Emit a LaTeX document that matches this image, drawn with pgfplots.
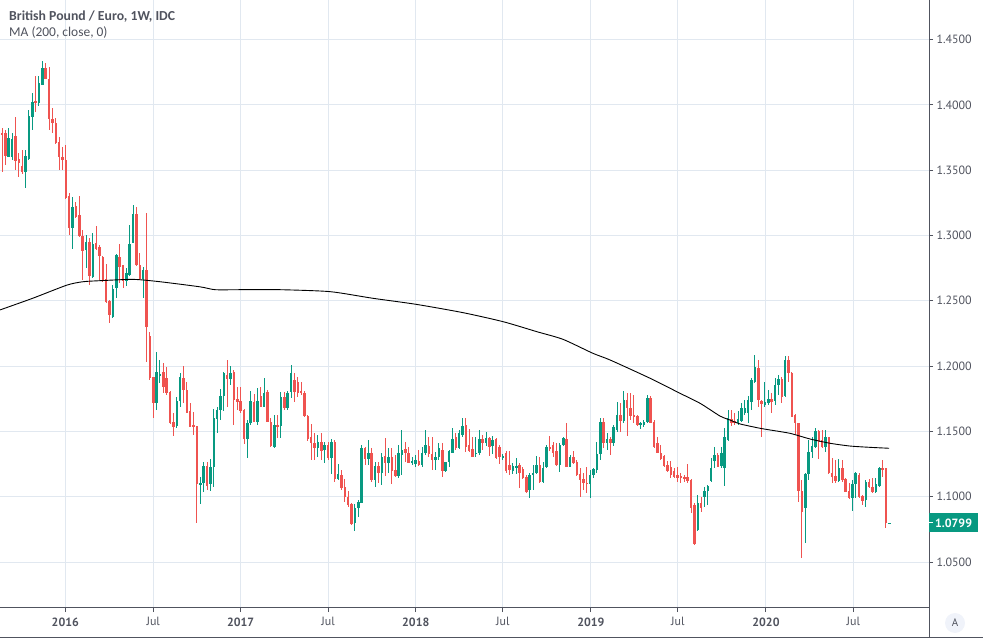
\documentclass[border=0pt]{standalone}
\usepackage{pgfplots}
\pgfplotsset{compat=1.18}
\usepackage{pgfplotstable}
\usepackage{fontspec}
\setmainfont{PT Sans}
\newfontfamily\titlefont{Carlito}

\definecolor{upc}{RGB}{8,153,129}
\definecolor{downc}{RGB}{239,83,80}
\definecolor{gridc}{RGB}{225,232,240}
\definecolor{axisc}{RGB}{80,83,94}
\definecolor{labelc}{RGB}{80,83,94}
\definecolor{btnc}{RGB}{240,243,250}

% weekly GBP/EUR candles: k = week index, o h l c
\pgfplotstableread{
k o h l c
0 1.3782 1.3820 1.3489 1.3769
1 1.3782 1.3808 1.3540 1.3608
2 1.3603 1.3820 1.3598 1.3744
3 1.3598 1.3782 1.3578 1.3736
4 1.3762 1.3910 1.3501 1.3570
5 1.3586 1.3629 1.3450 1.3552
6 1.3532 1.3654 1.3471 1.3489
7 1.3489 1.3654 1.3361 1.3608
8 1.3586 1.3961 1.3578 1.3915
9 1.3910 1.4088 1.3808 1.4024
10 1.4030 1.4221 1.3948 1.4017
11 1.4017 1.4221 1.3991 1.4170
12 1.4152 1.4336 1.4150 1.4280
13 1.4280 1.4323 1.4203 1.4198
14 1.4198 1.4292 1.3808 1.3892
15 1.3892 1.3973 1.3782 1.3859
16 1.3859 1.3897 1.3700 1.3705
17 1.3713 1.3751 1.3501 1.3603
18 1.3603 1.3680 1.3501 1.3578
19 1.3578 1.3693 1.3280 1.3284
20 1.3302 1.3323 1.3004 1.3060
21 1.3060 1.3297 1.2896 1.3221
22 1.3226 1.3259 1.3131 1.3144
23 1.3157 1.3302 1.2991 1.2999
24 1.2999 1.3042 1.2659 1.2881
25 1.2889 1.3004 1.2748 1.2947
26 1.2947 1.2978 1.2621 1.2690
27 1.2685 1.3016 1.2672 1.2935
28 1.2945 1.3073 1.2890 1.2898
29 1.2914 1.2927 1.2659 1.2843
30 1.2838 1.2840 1.2646 1.2659
31 1.2664 1.2782 1.2480 1.2488
32 1.2501 1.2506 1.2327 1.2391
33 1.2378 1.2621 1.2366 1.2588
34 1.2595 1.2858 1.2519 1.2851
35 1.2838 1.2935 1.2634 1.2761
36 1.2774 1.2776 1.2595 1.2651
37 1.2654 1.2748 1.2613 1.2710
38 1.2697 1.3080 1.2690 1.2935
39 1.2945 1.3233 1.2940 1.3164
40 1.3164 1.3221 1.2766 1.2774
41 1.2774 1.2868 1.2659 1.2664
42 1.2664 1.2761 1.2519 1.2736
43 1.2736 1.3170 1.2034 1.2302
44 1.2230 1.2264 1.1894 1.1906
45 1.1914 1.1919 1.1605 1.1715
46 1.1715 1.2110 1.1664 1.1957
47 1.1926 1.2046 1.1868 1.1942
48 1.1952 1.2021 1.1791 1.1837
49 1.1911 1.1995 1.1778 1.1791
50 1.1804 1.1809 1.1556 1.1567
51 1.1574 1.1638 1.1467 1.1536
52 1.1544 1.1766 1.1523 1.1735
53 1.1735 1.1949 1.1689 1.1916
54 1.1911 1.2003 1.1715 1.1817
55 1.1817 1.1880 1.1638 1.1643
56 1.1656 1.1720 1.1531 1.1536
57 1.1549 1.1651 1.1472 1.1536
58 1.1541 1.1545 1.0801 1.1094
59 1.1094 1.1153 1.0941 1.1107
60 1.1102 1.1268 1.1038 1.1235
61 1.1235 1.1268 1.1051 1.1084
62 1.1097 1.1288 1.1046 1.1230
63 1.1230 1.1671 1.1077 1.1605
64 1.1597 1.1689 1.1485 1.1661
65 1.1661 1.1822 1.1587 1.1773
66 1.1773 1.1957 1.1658 1.1944
67 1.1931 1.2046 1.1684 1.1901
68 1.1903 1.2003 1.1855 1.1949
69 1.1957 1.1970 1.1549 1.1740
70 1.1748 1.1842 1.1664 1.1727
71 1.1735 1.1837 1.1638 1.1658
72 1.1663 1.1671 1.1403 1.1441
73 1.1441 1.1587 1.1299 1.1561
74 1.1561 1.1812 1.1549 1.1735
75 1.1727 1.1786 1.1569 1.1574
76 1.1569 1.1829 1.1549 1.1735
77 1.1771 1.1842 1.1684 1.1689
78 1.1689 1.1906 1.1684 1.1796
79 1.1804 1.1817 1.1569 1.1574
80 1.1574 1.1600 1.1383 1.1388
81 1.1383 1.1625 1.1370 1.1549
82 1.1549 1.1625 1.1447 1.1536
83 1.1544 1.1804 1.1447 1.1766
84 1.1766 1.1804 1.1663 1.1676
85 1.1676 1.1809 1.1663 1.1796
86 1.1804 1.2008 1.1753 1.1949
87 1.1893 1.1944 1.1727 1.1804
88 1.1880 1.1919 1.1766 1.1791
89 1.1809 1.1880 1.1778 1.1791
90 1.1791 1.1809 1.1607 1.1618
91 1.1618 1.1625 1.1426 1.1441
92 1.1454 1.1556 1.1281 1.1413
93 1.1413 1.1485 1.1281 1.1375
94 1.1375 1.1472 1.1306 1.1418
95 1.1418 1.1485 1.1281 1.1352
96 1.1357 1.1421 1.1260 1.1395
97 1.1395 1.1421 1.1281 1.1293
98 1.1293 1.1439 1.1173 1.1418
99 1.1418 1.1434 1.1115 1.1133
100 1.1133 1.1250 1.1128 1.1173
101 1.1166 1.1204 1.1051 1.1064
102 1.1071 1.1133 1.0962 1.0995
103 1.1000 1.1046 1.0923 1.0936
104 1.0941 1.0949 1.0783 1.0788
105 1.0801 1.0944 1.0740 1.0916
106 1.0916 1.0974 1.0842 1.0959
107 1.0954 1.1395 1.0950 1.1370
108 1.1370 1.1383 1.1242 1.1286
109 1.1286 1.1434 1.1242 1.1337
110 1.1337 1.1370 1.1115 1.1128
111 1.1128 1.1268 1.1071 1.1235
112 1.1235 1.1268 1.1102 1.1179
113 1.1179 1.1337 1.1089 1.1306
114 1.1311 1.1447 1.1158 1.1260
115 1.1260 1.1375 1.1179 1.1306
116 1.1306 1.1370 1.1097 1.1199
117 1.1204 1.1319 1.1148 1.1161
118 1.1161 1.1395 1.1140 1.1332
119 1.1319 1.1510 1.1166 1.1357
120 1.1362 1.1421 1.1268 1.1332
121 1.1337 1.1383 1.1255 1.1260
122 1.1255 1.1306 1.1242 1.1276
123 1.1250 1.1319 1.1230 1.1281
124 1.1276 1.1357 1.1235 1.1242
125 1.1242 1.1383 1.1230 1.1337
126 1.1337 1.1510 1.1319 1.1395
127 1.1388 1.1454 1.1306 1.1327
128 1.1327 1.1454 1.1204 1.1281
129 1.1281 1.1344 1.1204 1.1306
130 1.1306 1.1408 1.1281 1.1370
131 1.1357 1.1408 1.1148 1.1199
132 1.1199 1.1268 1.1191 1.1263
133 1.1263 1.1357 1.1230 1.1350
134 1.1337 1.1523 1.1332 1.1439
135 1.1454 1.1485 1.1357 1.1370
136 1.1370 1.1510 1.1365 1.1485
137 1.1473 1.1600 1.1460 1.1542
138 1.1549 1.1600 1.1345 1.1384
139 1.1396 1.1516 1.1345 1.1353
140 1.1363 1.1460 1.1302 1.1307
141 1.1327 1.1460 1.1307 1.1338
142 1.1338 1.1511 1.1320 1.1440
143 1.1440 1.1473 1.1358 1.1414
144 1.1414 1.1498 1.1389 1.1447
145 1.1447 1.1455 1.1312 1.1384
146 1.1389 1.1465 1.1327 1.1435
147 1.1440 1.1447 1.1287 1.1294
148 1.1384 1.1396 1.1251 1.1302
149 1.1294 1.1327 1.1282 1.1312
150 1.1333 1.1353 1.1179 1.1200
151 1.1240 1.1353 1.1167 1.1205
152 1.1200 1.1256 1.1174 1.1236
153 1.1225 1.1294 1.1174 1.1236
154 1.1243 1.1256 1.1065 1.1185
155 1.1210 1.1225 1.1133 1.1141
156 1.1154 1.1167 1.1031 1.1039
157 1.1052 1.1179 1.0988 1.1167
158 1.1167 1.1243 1.1052 1.1185
159 1.1185 1.1312 1.1174 1.1243
160 1.1243 1.1302 1.1108 1.1116
161 1.1116 1.1269 1.1103 1.1218
162 1.1225 1.1396 1.1218 1.1384
163 1.1384 1.1465 1.1353 1.1363
164 1.1396 1.1422 1.1307 1.1338
165 1.1353 1.1409 1.1236 1.1243
166 1.1243 1.1414 1.1192 1.1396
167 1.1396 1.1455 1.1389 1.1447
168 1.1440 1.1562 1.1225 1.1230
169 1.1230 1.1320 1.1225 1.1307
170 1.1302 1.1353 1.1251 1.1261
171 1.1269 1.1282 1.1159 1.1167
172 1.1174 1.1218 1.1001 1.1128
173 1.1133 1.1179 1.1052 1.1103
174 1.1108 1.1225 1.1031 1.1095
175 1.1095 1.1205 1.0988 1.1167
176 1.1167 1.1218 1.1141 1.1210
177 1.1205 1.1422 1.1185 1.1327
178 1.1327 1.1600 1.1282 1.1575
179 1.1575 1.1600 1.1371 1.1414
180 1.1414 1.1485 1.1358 1.1442
181 1.1439 1.1460 1.1320 1.1409
182 1.1409 1.1549 1.1388 1.1531
183 1.1511 1.1728 1.1498 1.1626
184 1.1626 1.1720 1.1498 1.1580
185 1.1580 1.1812 1.1562 1.1741
186 1.1741 1.1792 1.1465 1.1677
187 1.1677 1.1792 1.1588 1.1618
188 1.1626 1.1779 1.1562 1.1613
189 1.1618 1.1626 1.1542 1.1549
190 1.1549 1.1575 1.1516 1.1562
191 1.1549 1.1587 1.1531 1.1575
192 1.1575 1.1779 1.1567 1.1753
193 1.1753 1.1771 1.1562 1.1567
194 1.1575 1.1587 1.1371 1.1378
195 1.1414 1.1455 1.1332 1.1337
196 1.1337 1.1396 1.1281 1.1286
197 1.1312 1.1320 1.1225 1.1235
198 1.1243 1.1276 1.1192 1.1200
199 1.1230 1.1276 1.1141 1.1166
200 1.1200 1.1218 1.1141 1.1149
201 1.1166 1.1225 1.1115 1.1141
202 1.1159 1.1179 1.1103 1.1149
203 1.1154 1.1166 1.1115 1.1133
204 1.1149 1.1251 1.1103 1.1123
205 1.1128 1.1133 1.0878 1.0916
206 1.0937 1.0950 1.0631 1.0638
207 1.0745 1.1013 1.0740 1.0950
208 1.0950 1.1001 1.0886 1.0916
209 1.1001 1.1077 1.0924 1.1046
210 1.1046 1.1090 1.0937 1.1082
211 1.1123 1.1294 1.1115 1.1218
212 1.1276 1.1378 1.1218 1.1320
213 1.1320 1.1332 1.1225 1.1230
214 1.1235 1.1383 1.1218 1.1337
215 1.1218 1.1524 1.1085 1.1455
216 1.1434 1.1664 1.1430 1.1600
217 1.1593 1.1664 1.1542 1.1567
218 1.1582 1.1644 1.1549 1.1562
219 1.1567 1.1659 1.1549 1.1593
220 1.1582 1.1715 1.1575 1.1677
221 1.1638 1.1741 1.1626 1.1677
222 1.1644 1.1771 1.1562 1.1741
223 1.1728 1.1907 1.1664 1.1894
224 1.1881 1.2085 1.1868 1.1996
225 1.1983 1.2047 1.1690 1.1741
226 1.1733 1.1741 1.1460 1.1707
227 1.1702 1.1881 1.1690 1.1728
228 1.1715 1.1817 1.1702 1.1746
229 1.1746 1.1792 1.1639 1.1728
230 1.1733 1.1907 1.1702 1.1855
231 1.1855 1.1932 1.1779 1.1899
232 1.1899 1.1919 1.1715 1.1766
233 1.1771 1.2078 1.1766 1.2047
234 1.2047 1.2078 1.1881 1.1945
235 1.1950 1.1958 1.1608 1.1613
236 1.1626 1.1630 1.1480 1.1562
237 1.1562 1.1567 1.0962 1.1047
238 1.1047 1.1128 1.0528 1.0886
239 1.0911 1.1184 1.0648 1.1174
240 1.1174 1.1434 1.1128 1.1345
241 1.1345 1.1460 1.1294 1.1388
242 1.1383 1.1524 1.1371 1.1506
243 1.1506 1.1511 1.1286 1.1422
244 1.1434 1.1511 1.1371 1.1383
245 1.1378 1.1511 1.1345 1.1455
246 1.1455 1.1460 1.1174 1.1179
247 1.1184 1.1294 1.1108 1.1154
248 1.1159 1.1281 1.1108 1.1120
249 1.1123 1.1286 1.1115 1.1217
250 1.1217 1.1281 1.1115 1.1128
251 1.1133 1.1141 1.1034 1.1039
252 1.1047 1.1103 1.0980 1.0988
253 1.0988 1.1128 1.0893 1.1097
254 1.1097 1.1192 1.0988 1.1179
255 1.1166 1.1184 1.0988 1.0996
256 1.1006 1.1013 1.0937 1.0970
257 1.0975 1.1128 1.0924 1.1115
258 1.1115 1.1133 1.1064 1.1072
259 1.1077 1.1141 1.1031 1.1039
260 1.1039 1.1141 1.1026 1.1097
261 1.1084 1.1230 1.1077 1.1217
262 1.1217 1.1281 1.1154 1.1210
263 1.1217 1.1220 1.0758 1.0796
264 1.0796 1.0801 1.0795 1.0799
}\fx

\pgfplotsset{
  candle/.style 2 args={draw=none, mark=none, forget plot,
    restrict expr to domain={\thisrow{c}-\thisrow{o}}{#1},
    error bars/.cd, y dir=both, y explicit, error mark=none,
    error bar style={draw=#2, solid}},
}

\begin{document}
\begin{tikzpicture}
\path[use as bounding box] (0,-31bp) rectangle (983bp,608bp);
\begin{axis}[
  at={(0,0)}, anchor=south west,
  scale only axis, width=929bp, height=608bp,
  xmin=-0.6, xmax=275.8, ymin=1.0148, ymax=1.4803,
  axis x line*=bottom, axis y line*=right,
  axis line style={draw=axisc, line width=1bp},
  tick align=outside, major tick length=4bp,
  tick style={draw=axisc, line width=1bp},
  grid=major, major grid style={draw=gridc, line width=1bp},
  xtick={18.83,45,71,97,123.1,149,175.2,201.1,227.3,253.3},
  xticklabels={\textbf{2016},Jul,\textbf{2017},Jul,\textbf{2018},Jul,\textbf{2019},Jul,\textbf{2020},Jul},
  ytick={1.05,1.1,1.15,1.2,1.25,1.3,1.35,1.4,1.45},
  tick label style={font=\fontsize{12}{14}\selectfont, text=labelc},
  yticklabel style={/pgf/number format/.cd, fixed, fixed zerofill, precision=4, assume math mode=true},
  xticklabel style={yshift=-2bp},
]
% wicks
\addplot[candle={0:1}{upc}, /pgfplots/error bars/error bar style={line width=1bp}]
  table[x=k, y expr=(\thisrow{h}+\thisrow{l})/2, y error expr=(\thisrow{h}-\thisrow{l})/2] {\fx};
\addplot[candle={-1:0}{downc}, /pgfplots/error bars/error bar style={line width=1bp}]
  table[x=k, y expr=(\thisrow{h}+\thisrow{l})/2, y error expr=(\thisrow{h}-\thisrow{l})/2] {\fx};
% bodies
\addplot[candle={0:1}{upc}, /pgfplots/error bars/error bar style={line width=2.5bp}]
  table[x=k, y expr=(\thisrow{o}+\thisrow{c})/2, y error expr={max(abs(\thisrow{c}-\thisrow{o})/2,0.0004)}] {\fx};
\addplot[candle={-1:0}{downc}, /pgfplots/error bars/error bar style={line width=2.5bp}]
  table[x=k, y expr=(\thisrow{o}+\thisrow{c})/2, y error expr={max(abs(\thisrow{c}-\thisrow{o})/2,0.0004)}] {\fx};
% MA (200, close)
\addplot[black, line width=0.9bp, smooth, tension=0.4] coordinates {
(-0.6,1.2430) (9.2,1.2520) (19.3,1.2620) (24.1,1.2646) (29.2,1.2654)
(39.0,1.2664) (47.0,1.2646) (58.9,1.2607) (63.4,1.2585) (70.8,1.2585)
(82.7,1.2585) (97.6,1.2570) (110.4,1.2519) (123.2,1.2473) (137.2,1.2409)
(149.1,1.2340) (159.2,1.2263) (166.9,1.2205) (175.8,1.2098) (180.9,1.2047)
(192.8,1.1907) (201.7,1.1792) (207.7,1.1715) (213.6,1.1618) (216.6,1.1587)
(219.6,1.1557) (225.5,1.1524) (228.5,1.1511) (234.5,1.1485) (240.4,1.1442)
(246.4,1.1409) (252.3,1.1388) (258.3,1.1378) (263.9,1.1371)
};
\coordinate (lastp) at (axis cs:275.8,1.0799);
\end{axis}
% frame lines outside the plot
\draw[axisc, line width=1bp] (929bp,0) -- (929bp,-29bp);
\draw[axisc, line width=1bp] (0,-29bp) -- (983bp,-29bp);
% header
\node[anchor=base west, inner sep=0, text=labelc, font=\titlefont\bfseries\fontsize{13.8}{16}\selectfont] at (9bp,587.3bp) {British Pound / Euro, 1W, IDC};
\node[anchor=base west, inner sep=0, text=labelc, font=\titlefont\fontsize{13.5}{15}\selectfont] at (9bp,571.3bp) {MA (200, close, 0)};
% last price label
\node[anchor=west, fill=upc, text=white, inner xsep=6bp, inner ysep=0, minimum height=19bp, font=\bfseries\fontsize{12}{14}\selectfont] at (lastp) {1.0799};
\draw[white, line width=1bp] (lastp) -- ++(4bp,0);
% auto-scale button
\node[circle, fill=btnc, minimum size=20bp, inner sep=0, text=labelc, font=\fontsize{11}{13}\selectfont] at (955bp,-15bp) {A};
\end{tikzpicture}
\end{document}
